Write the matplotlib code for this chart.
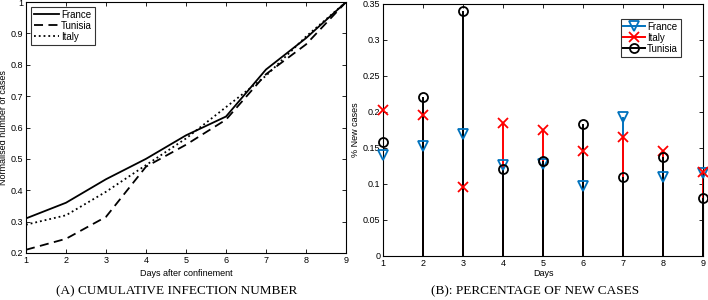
import matplotlib.pyplot as plt

plt.rcParams["font.family"] = ["Liberation Sans", "DejaVu Sans"]

days = [1, 2, 3, 4, 5, 6, 7, 8, 9]

# (A) normalised cumulative cases
cum_france = [0.31, 0.36, 0.435, 0.50, 0.575, 0.635, 0.785, 0.885, 1.0]
cum_tunisia = [0.21, 0.245, 0.315, 0.475, 0.545, 0.625, 0.77, 0.865, 1.0]
cum_italy = [0.29, 0.32, 0.395, 0.48, 0.565, 0.665, 0.765, 0.89, 1.0]

# (B) share of new cases
new_france = [0.14, 0.153, 0.169, 0.126, 0.128, 0.097, 0.193, 0.11, 0.115]
new_italy = [0.202, 0.196, 0.096, 0.185, 0.175, 0.145, 0.165, 0.145, 0.116]
new_tunisia = [0.158, 0.22, 0.34, 0.121, 0.132, 0.183, 0.109, 0.138, 0.081]

fig = plt.figure(figsize=(7.08, 3.0), dpi=100)
ax1 = fig.add_axes([0.0367, 0.157, 0.452, 0.836])
ax2 = fig.add_axes([0.541, 0.147, 0.452, 0.840])

ax1.plot(days, cum_france, "k-", lw=1.3, label="France")
ax1.plot(days, cum_tunisia, "k--", lw=1.3, dashes=(5, 3), label="Tunisia")
ax1.plot(days, cum_italy, "k:", lw=1.3, label="Italy")
ax1.set_xlim(1, 9)
ax1.set_ylim(0.2, 1.0)
ax1.set_xticks(days)
ax1.set_yticks([0.2, 0.3, 0.4, 0.5, 0.6, 0.7, 0.8, 0.9, 1.0])
ax1.set_yticklabels(["0.2", "0.3", "0.4", "0.5", "0.6", "0.7", "0.8", "0.9", "1"])
ax1.set_xlabel("Days after confinement", fontsize=6.5, labelpad=3)
ax1.set_ylabel("Normalised number of cases", fontsize=6.5, labelpad=2)
leg1 = ax1.legend(loc="upper left", fontsize=7, frameon=True, fancybox=False,
                  edgecolor="black", handlelength=2.6, handletextpad=0.2,
                  borderpad=0.3, labelspacing=0.1, borderaxespad=0.5)
leg1.get_frame().set_linewidth(0.8)

series = [
    ("France", new_france, "#0072BD", "v"),
    ("Italy", new_italy, "#FF0000", "x"),
    ("Tunisia", new_tunisia, "#000000", "o"),
]
for name, vals, col, mk in series:
    ax2.vlines(days, 0, vals, colors=col, lw=1.4, zorder=2)
    ax2.plot(days, vals, ls="none", marker=mk, ms=6.5, mfc="none", mec=col,
             mew=1.3, zorder=3, clip_on=False)
    ax2.plot([], [], color=col, lw=1.4, marker=mk, ms=6.5, mfc="none",
             mec=col, mew=1.3, label=name)
ax2.set_xlim(1, 9)
ax2.set_ylim(0, 0.35)
ax2.set_xticks(days)
ax2.set_yticks([0, 0.05, 0.1, 0.15, 0.2, 0.25, 0.3, 0.35])
ax2.set_yticklabels(["0", "0.05", "0.1", "0.15", "0.2", "0.25", "0.3", "0.35"])
ax2.set_xlabel("Days", fontsize=6.5, labelpad=1)
ax2.set_ylabel("% New cases", fontsize=6.5, labelpad=2)
leg2 = ax2.legend(loc="upper right", fontsize=7, frameon=True, fancybox=False,
                  edgecolor="black", handlelength=2.2, handletextpad=0.2,
                  borderpad=0.3, labelspacing=0.1, numpoints=1,
                  bbox_to_anchor=(0.945, 0.96))
leg2.get_frame().set_linewidth(0.8)

for ax in (ax1, ax2):
    ax.tick_params(direction="in", top=True, right=True, labelsize=6.5,
                   length=3, width=0.6, pad=2)
    for sp in ax.spines.values():
        sp.set_linewidth(0.8)

fig.text(0.249, 0.028, "(A) CUMULATIVE INFECTION NUMBER", ha="center", va="center",
         family="Liberation Serif", fontsize=9.5)
fig.text(0.756, 0.028, "(B): PERCENTAGE OF NEW CASES", ha="center", va="center",
         family="Liberation Serif", fontsize=9.5)

fig.savefig("out.png", dpi=100)
